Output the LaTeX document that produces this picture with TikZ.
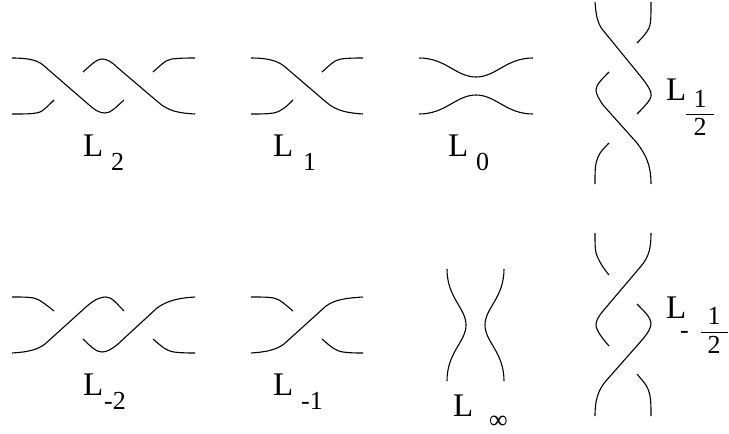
\documentclass[tikz,border=0pt]{standalone}
\usepackage{fontspec}
\setmainfont{Liberation Serif}
\tikzset{
  strand/.style={line width=1.1pt,line cap=butt,line join=round,black},
  big/.style={inner sep=0pt,anchor=base west,font=\fontsize{33}{33}\selectfont},
  small/.style={inner sep=0pt,anchor=base west,font=\fontsize{26}{26}\selectfont},
  smallc/.style={inner sep=0pt,anchor=base,font=\fontsize{26}{26}\selectfont},
  fracbar/.style={line width=0.9pt,black}
}
\begin{document}
\begin{tikzpicture}[x=1pt,y=-1pt]
\useasboundingbox (0,0) rectangle (729,434);
% L2
\draw[strand] (12,58) .. controls (28,58) and (37,60) .. (43,65) -- (88,104) .. controls (96,111) and (100,113) .. (105,113) .. controls (111,113) and (115,108) .. (124,100);
\draw[strand] (12,114) .. controls (28,114) and (37,114) .. (42,111) .. controls (46,108) and (50,104) .. (54,100);
\draw[strand] (83,72) .. controls (92,64) and (97,59) .. (102,59) .. controls (107,59) and (112,62) .. (118,68) -- (158,102) .. controls (168,111) and (178,113) .. (195,114);
\draw[strand] (153,72) .. controls (160,66) and (165,60) .. (172,59) .. controls (180,58) and (188,58) .. (195,58);
% L1
\draw[strand] (251,58) .. controls (266,58) and (276,60) .. (284,66) -- (326,102) .. controls (336,111) and (348,113) .. (363,114);
\draw[strand] (251,114) .. controls (266,114) and (276,114) .. (281,110) .. controls (285,108) and (289,104) .. (293,100);
\draw[strand] (322,72) .. controls (329,66) and (334,60) .. (341,59) .. controls (349,58) and (355,58) .. (363,58);
% L0
\draw[strand] (419,58) .. controls (446,58) and (456,77) .. (476,77) .. controls (496,77) and (506,58) .. (533,58);
\draw[strand] (419,114) .. controls (446,114) and (456,95) .. (476,95) .. controls (496,95) and (506,114) .. (533,114);
% L 1/2
\draw[strand] (595,2) .. controls (596,14) and (597,22) .. (602,29) -- (642,78) .. controls (651,90) and (654,95) .. (648,102) .. controls (645,106) and (641,110) .. (637,114);
\draw[strand] (651,2) .. controls (651,16) and (651,24) .. (649,28) .. controls (646,34) and (642,38) .. (637,43);
\draw[strand] (609,72) .. controls (601,80) and (596,85) .. (596,90) .. controls (596,94) and (599,99) .. (603,105) -- (637,143) .. controls (646,155) and (651,165) .. (651,184);
\draw[strand] (609,143) .. controls (604,148) and (600,152) .. (598,157) .. controls (595,164) and (595,170) .. (595,184);
% L-2
\draw[strand] (12,297) .. controls (26,297) and (34,297) .. (39,300) .. controls (44,303) and (49,307) .. (54,311);
\draw[strand] (12,353) .. controls (28,352) and (37,350) .. (45,344) -- (86,307) .. controls (96,298) and (102,297) .. (106,297) .. controls (112,297) and (116,303) .. (124,311);
\draw[strand] (83,339) .. controls (92,348) and (97,352) .. (102,352) .. controls (107,352) and (112,349) .. (118,344) -- (157,308) .. controls (168,300) and (180,298) .. (195,297);
\draw[strand] (153,339) .. controls (160,345) and (166,351) .. (174,352) .. controls (182,353) and (188,353) .. (195,353);
% L-1
\draw[strand] (251,297) .. controls (266,297) and (274,297) .. (279,300) .. controls (284,303) and (288,307) .. (293,311);
\draw[strand] (251,353) .. controls (266,352) and (276,350) .. (284,344) -- (326,306) .. controls (336,299) and (348,298) .. (363,297);
\draw[strand] (322,339) .. controls (329,345) and (335,351) .. (343,352) .. controls (350,353) and (356,353) .. (363,353);
% L-inf
\draw[strand] (447,269) .. controls (447,298) and (466,308) .. (466,325) .. controls (466,342) and (447,352) .. (447,381);
\draw[strand] (504,269) .. controls (504,298) and (485,308) .. (485,325) .. controls (485,342) and (504,352) .. (504,381);
% L -1/2
\draw[strand] (595,233) .. controls (595,246) and (595,253) .. (598,258) .. controls (601,265) and (605,270) .. (609,275);
\draw[strand] (651,233) .. controls (651,248) and (649,256) .. (642,265) -- (603,311) .. controls (598,317) and (596,321) .. (596,325) .. controls (596,330) and (602,338) .. (609,346);
\draw[strand] (637,304) .. controls (644,311) and (651,318) .. (651,323) .. controls (651,328) and (648,333) .. (642,340) -- (605,382) .. controls (598,391) and (595,400) .. (595,416);
\draw[strand] (637,374) .. controls (642,380) and (646,384) .. (648,389) .. controls (651,396) and (651,404) .. (651,416);
% labels
\node[big] (l2) at (83,156) {L};
\node[small] (s2) at (111,170) {2};
\node[big] (l1) at (273,156) {L};
\node[small] (s1) at (303,170) {1};
\node[big] (l0) at (448,156) {L};
\node[small] (s0) at (476,170) {0};
\node[big] (lh) at (666,100) {L};
\node[smallc] (hn) at (700,107) {1};
\node[smallc] (hd) at (700,135) {2};
\draw[fracbar] (686,114) -- (714,114);
\node[big] (lm2) at (83,395) {L};
\node[small] (sm2) at (104,409) {-2};
\node[big] (lm1) at (273,395) {L};
\node[small] (sm1) at (301,409) {-1};
\node[big] (li) at (453,416) {L};
\node[small] (si) at (489,428) {∞};
\node[big] (lmh) at (666,318) {L};
\node[small] (mh) at (680,338) {-};
\node[smallc] (mn) at (714,324) {1};
\node[smallc] (md) at (714,353) {2};
\draw[fracbar] (701,332) -- (728,332);
\end{tikzpicture}
\end{document}
